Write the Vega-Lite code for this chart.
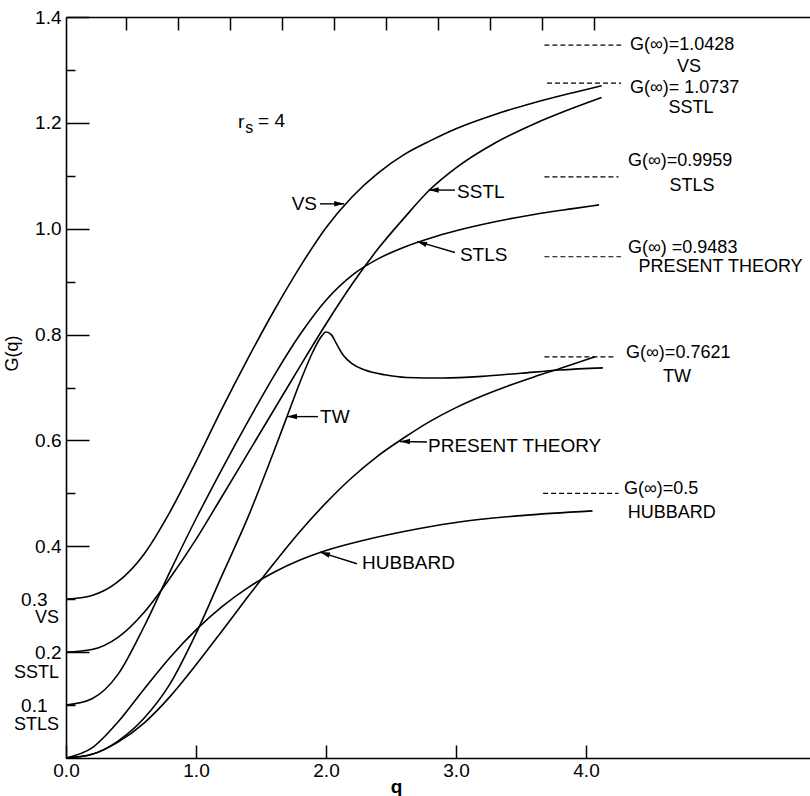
{
  "$schema": "https://vega.github.io/schema/vega-lite/v6.json",
  "width": 744,
  "height": 741,
  "autosize": {"type": "none"},
  "padding": {"left": 66, "top": 17, "right": 0, "bottom": 38},
  "background": "white",
  "config": {
    "view": {"stroke": null},
    "font": "Liberation Sans",
    "text": {"font": "Liberation Sans", "fontSize": 19, "color": "black", "baseline": "middle"},
    "axis": {
      "grid": false,
      "domainColor": "black",
      "domainWidth": 1.6,
      "tickColor": "black",
      "tickWidth": 1.5,
      "labelColor": "black",
      "labelFont": "Liberation Sans",
      "labelFontSize": 19,
      "titleColor": "black",
      "titleFont": "Liberation Sans",
      "titleFontSize": 19,
      "titleFontWeight": "normal",
      "labelOverlap": false,
      "labelFlush": false
    }
  },
  "datasets": {
    "curves": [
      {"s": "VS", "q": 0, "G": 0.300}, {"s": "VS", "q": 0.2, "G": 0.307}, {"s": "VS", "q": 0.4, "G": 0.333},
      {"s": "VS", "q": 0.6, "G": 0.385}, {"s": "VS", "q": 0.8, "G": 0.465}, {"s": "VS", "q": 1.0, "G": 0.560},
      {"s": "VS", "q": 1.2, "G": 0.660}, {"s": "VS", "q": 1.4, "G": 0.755}, {"s": "VS", "q": 1.6, "G": 0.845},
      {"s": "VS", "q": 1.8, "G": 0.928}, {"s": "VS", "q": 2.0, "G": 1.002}, {"s": "VS", "q": 2.2, "G": 1.060},
      {"s": "VS", "q": 2.4, "G": 1.105}, {"s": "VS", "q": 2.6, "G": 1.140}, {"s": "VS", "q": 2.8, "G": 1.166},
      {"s": "VS", "q": 3.0, "G": 1.189}, {"s": "VS", "q": 3.3, "G": 1.216}, {"s": "VS", "q": 3.6, "G": 1.238},
      {"s": "VS", "q": 3.9, "G": 1.257}, {"s": "VS", "q": 4.12, "G": 1.270},

      {"s": "STLS", "q": 0, "G": 0.100}, {"s": "STLS", "q": 0.2, "G": 0.112}, {"s": "STLS", "q": 0.4, "G": 0.158},
      {"s": "STLS", "q": 0.6, "G": 0.248}, {"s": "STLS", "q": 0.8, "G": 0.352}, {"s": "STLS", "q": 1.0, "G": 0.452},
      {"s": "STLS", "q": 1.2, "G": 0.546}, {"s": "STLS", "q": 1.4, "G": 0.636}, {"s": "STLS", "q": 1.6, "G": 0.722},
      {"s": "STLS", "q": 1.8, "G": 0.800}, {"s": "STLS", "q": 2.0, "G": 0.865}, {"s": "STLS", "q": 2.2, "G": 0.912},
      {"s": "STLS", "q": 2.4, "G": 0.943}, {"s": "STLS", "q": 2.6, "G": 0.965}, {"s": "STLS", "q": 2.8, "G": 0.982},
      {"s": "STLS", "q": 3.0, "G": 0.996}, {"s": "STLS", "q": 3.3, "G": 1.013}, {"s": "STLS", "q": 3.6, "G": 1.027},
      {"s": "STLS", "q": 3.9, "G": 1.038}, {"s": "STLS", "q": 4.1, "G": 1.045},

      {"s": "SSTL", "q": 0, "G": 0.200}, {"s": "SSTL", "q": 0.2, "G": 0.205}, {"s": "SSTL", "q": 0.4, "G": 0.228},
      {"s": "SSTL", "q": 0.6, "G": 0.275}, {"s": "SSTL", "q": 0.8, "G": 0.340}, {"s": "SSTL", "q": 1.0, "G": 0.413},
      {"s": "SSTL", "q": 1.2, "G": 0.494}, {"s": "SSTL", "q": 1.4, "G": 0.576}, {"s": "SSTL", "q": 1.6, "G": 0.658},
      {"s": "SSTL", "q": 1.8, "G": 0.740}, {"s": "SSTL", "q": 2.0, "G": 0.820}, {"s": "SSTL", "q": 2.2, "G": 0.895},
      {"s": "SSTL", "q": 2.4, "G": 0.962}, {"s": "SSTL", "q": 2.6, "G": 1.020}, {"s": "SSTL", "q": 2.8, "G": 1.074},
      {"s": "SSTL", "q": 3.0, "G": 1.115}, {"s": "SSTL", "q": 3.3, "G": 1.162}, {"s": "SSTL", "q": 3.6, "G": 1.198},
      {"s": "SSTL", "q": 3.9, "G": 1.228}, {"s": "SSTL", "q": 4.12, "G": 1.248},

      {"s": "TW", "q": 0, "G": 0}, {"s": "TW", "q": 0.2, "G": 0.007}, {"s": "TW", "q": 0.4, "G": 0.032},
      {"s": "TW", "q": 0.6, "G": 0.075}, {"s": "TW", "q": 0.8, "G": 0.140}, {"s": "TW", "q": 1.0, "G": 0.235},
      {"s": "TW", "q": 1.2, "G": 0.345}, {"s": "TW", "q": 1.4, "G": 0.455}, {"s": "TW", "q": 1.6, "G": 0.580},
      {"s": "TW", "q": 1.7, "G": 0.645}, {"s": "TW", "q": 1.8, "G": 0.710}, {"s": "TW", "q": 1.9, "G": 0.768},
      {"s": "TW", "q": 1.96, "G": 0.795}, {"s": "TW", "q": 2.0, "G": 0.805}, {"s": "TW", "q": 2.04, "G": 0.800},
      {"s": "TW", "q": 2.08, "G": 0.783}, {"s": "TW", "q": 2.13, "G": 0.762}, {"s": "TW", "q": 2.2, "G": 0.745},
      {"s": "TW", "q": 2.3, "G": 0.733}, {"s": "TW", "q": 2.45, "G": 0.724}, {"s": "TW", "q": 2.62, "G": 0.719},
      {"s": "TW", "q": 2.9, "G": 0.718}, {"s": "TW", "q": 3.2, "G": 0.721}, {"s": "TW", "q": 3.5, "G": 0.727},
      {"s": "TW", "q": 3.8, "G": 0.733}, {"s": "TW", "q": 4.13, "G": 0.737},

      {"s": "PRESENT", "q": 0, "G": 0}, {"s": "PRESENT", "q": 0.2, "G": 0.007}, {"s": "PRESENT", "q": 0.4, "G": 0.030},
      {"s": "PRESENT", "q": 0.6, "G": 0.066}, {"s": "PRESENT", "q": 0.8, "G": 0.116}, {"s": "PRESENT", "q": 1.0, "G": 0.176},
      {"s": "PRESENT", "q": 1.2, "G": 0.240}, {"s": "PRESENT", "q": 1.4, "G": 0.305}, {"s": "PRESENT", "q": 1.6, "G": 0.368},
      {"s": "PRESENT", "q": 1.8, "G": 0.428}, {"s": "PRESENT", "q": 2.0, "G": 0.482}, {"s": "PRESENT", "q": 2.2, "G": 0.530},
      {"s": "PRESENT", "q": 2.4, "G": 0.571}, {"s": "PRESENT", "q": 2.6, "G": 0.605}, {"s": "PRESENT", "q": 2.8, "G": 0.636},
      {"s": "PRESENT", "q": 3.0, "G": 0.662}, {"s": "PRESENT", "q": 3.2, "G": 0.684}, {"s": "PRESENT", "q": 3.4, "G": 0.703},
      {"s": "PRESENT", "q": 3.6, "G": 0.720}, {"s": "PRESENT", "q": 3.8, "G": 0.736}, {"s": "PRESENT", "q": 4.07, "G": 0.758},

      {"s": "HUBBARD", "q": 0, "G": 0}, {"s": "HUBBARD", "q": 0.2, "G": 0.019}, {"s": "HUBBARD", "q": 0.4, "G": 0.068},
      {"s": "HUBBARD", "q": 0.6, "G": 0.130}, {"s": "HUBBARD", "q": 0.8, "G": 0.190}, {"s": "HUBBARD", "q": 1.0, "G": 0.242},
      {"s": "HUBBARD", "q": 1.2, "G": 0.286}, {"s": "HUBBARD", "q": 1.4, "G": 0.322}, {"s": "HUBBARD", "q": 1.6, "G": 0.351},
      {"s": "HUBBARD", "q": 1.8, "G": 0.374}, {"s": "HUBBARD", "q": 2.0, "G": 0.392}, {"s": "HUBBARD", "q": 2.3, "G": 0.412},
      {"s": "HUBBARD", "q": 2.6, "G": 0.428}, {"s": "HUBBARD", "q": 3.0, "G": 0.445}, {"s": "HUBBARD", "q": 3.5, "G": 0.458},
      {"s": "HUBBARD", "q": 4.05, "G": 0.467}
    ],
    "leaders": [
      {"s": "VS", "x1": 3.68, "x2": 4.27, "G": 1.347},
      {"s": "SSTL", "x1": 3.70, "x2": 4.27, "G": 1.275},
      {"s": "STLS", "x1": 3.68, "x2": 4.25, "G": 1.098},
      {"s": "PRESENT", "x1": 3.68, "x2": 4.27, "G": 0.947},
      {"s": "TW", "x1": 3.68, "x2": 4.22, "G": 0.758},
      {"s": "HUBBARD", "x1": 3.67, "x2": 4.25, "G": 0.500}
    ],
    "arrows": [
      {"s": "VS", "q1": 1.954, "g1": 1.047, "q2": 2.14, "g2": 1.047},
      {"s": "SSTL", "q1": 2.992, "g1": 1.073, "q2": 2.79, "g2": 1.073},
      {"s": "STLS", "q1": 2.992, "g1": 0.955, "q2": 2.70, "g2": 0.976},
      {"s": "TW", "q1": 1.938, "g1": 0.645, "q2": 1.70, "g2": 0.645},
      {"s": "PRESENT", "q1": 2.777, "g1": 0.597, "q2": 2.569, "g2": 0.598},
      {"s": "HUBBARD", "q1": 2.238, "g1": 0.367, "q2": 1.954, "g2": 0.389}
    ],
    "curveLabels": [
      {"t": "SSTL", "q": 3.008, "G": 1.070},
      {"t": "STLS", "q": 3.03, "G": 0.951},
      {"t": "TW", "q": 1.954, "G": 0.645},
      {"t": "PRESENT THEORY", "q": 2.785, "G": 0.590},
      {"t": "HUBBARD", "q": 2.277, "G": 0.369}
    ],
    "vsLabel": [
      {"t": "VS", "q": 1.931, "G": 1.047}
    ],
    "limits": [
      {"t": "G(∞)=1.0428", "q": 4.338, "G": 1.348},
      {"t": "G(∞)= 1.0737", "q": 4.338, "G": 1.266},
      {"t": "G(∞)=0.9959", "q": 4.323, "G": 1.128},
      {"t": "G(∞) =0.9483", "q": 4.323, "G": 0.964},
      {"t": "G(∞)=0.7621", "q": 4.308, "G": 0.766},
      {"t": "G(∞)=0.5", "q": 4.292, "G": 0.509}
    ],
    "limitNames": [
      {"t": "VS", "q": 4.792, "G": 1.306},
      {"t": "SSTL", "q": 4.808, "G": 1.228},
      {"t": "STLS", "q": 4.815, "G": 1.081},
      {"t": "PRESENT THEORY", "q": 5.035, "G": 0.927},
      {"t": "TW", "q": 4.70, "G": 0.720},
      {"t": "HUBBARD", "q": 4.66, "G": 0.463}
    ],
    "startNames": [
      {"t": "VS", "q": 0, "G": 0.264},
      {"t": "SSTL", "q": 0, "G": 0.160},
      {"t": "STLS", "q": 0, "G": 0.062}
    ],
    "rsMain": [
      {"t": "r", "q": 1.323, "G": 1.202},
      {"t": "= 4", "q": 1.477, "G": 1.204}
    ],
    "rsSub": [
      {"t": "s", "q": 1.378, "G": 1.190}
    ]
  },
  "layer": [
    {
      "data": {"name": "curves"},
      "mark": {"type": "line", "interpolate": "monotone", "color": "black", "strokeWidth": 1.6},
      "encoding": {
        "x": {
          "field": "q", "type": "quantitative",
          "scale": {"domain": [0, 5.723], "nice": false, "zero": false},
          "axis": {
            "orient": "bottom",
            "values": [0, 1, 2, 3, 4],
            "format": ".1f",
            "tickSize": -13,
            "labelPadding": 16,
            "title": "q",
            "titleFontWeight": "bold",
            "titleX": 330,
            "titleY": 34,
            "titleAlign": "center",
            "titleBaseline": "alphabetic"
          }
        },
        "y": {
          "field": "G", "type": "quantitative",
          "scale": {"domain": [0, 1.4], "nice": false},
          "axis": {
            "values": [0.1, 0.2, 0.3, 0.4, 0.5, 0.6, 0.7, 0.8, 0.9, 1.0, 1.1, 1.2, 1.3, 1.4],
            "format": ".1f",
            "labelExpr": "(datum.value > 0.35 && round(datum.value * 10) % 2 == 1) ? '' : datum.label",
            "tickSize": {"condition": {"test": "round(datum.value * 10) % 2 == 1", "value": -9}, "value": -23},
            "labelPadding": 28,
            "title": "G(q)",
            "titleFontSize": 18,
            "titleAngle": -90,
            "titleX": -54,
            "titleY": 336,
            "titleAlign": "center",
            "titleBaseline": "middle"
          }
        },
        "detail": {"field": "s"}
      }
    },
    {
      "data": {"name": "leaders"},
      "mark": {"type": "rule", "color": "black", "strokeWidth": 1.2, "strokeDash": [5, 3]},
      "encoding": {
        "x": {
          "field": "x1", "type": "quantitative",
          "axis": {
            "orient": "top",
            "values": [0.46, 0.86, 1.26, 1.66, 2.06, 2.46, 2.86, 3.26, 3.66, 4.06],
            "labels": false,
            "tickSize": -13,
            "title": null
          }
        },
        "x2": {"field": "x2"},
        "y": {"field": "G", "type": "quantitative", "axis": null}
      }
    },
    {
      "data": {"name": "arrows"},
      "mark": {"type": "rule", "color": "black", "strokeWidth": 1.4},
      "encoding": {
        "x": {"field": "q1", "type": "quantitative", "axis": null},
        "x2": {"field": "q2"},
        "y": {"field": "g1", "type": "quantitative", "axis": null},
        "y2": {"field": "g2"}
      }
    },
    {
      "data": {"name": "arrows"},
      "transform": [{"filter": "datum.s == 'SSTL' || datum.s == 'TW' || datum.s == 'PRESENT'"}],
      "mark": {"type": "point", "shape": "M0,0L2,-0.55L2,0.55Z", "filled": true, "color": "black", "opacity": 1, "size": 100, "angle": 0},
      "encoding": {
        "x": {"field": "q2", "type": "quantitative", "axis": null},
        "y": {"field": "g2", "type": "quantitative", "axis": null}
      }
    },
    {
      "data": {"name": "arrows"},
      "transform": [{"filter": "datum.s == 'VS'"}],
      "mark": {"type": "point", "shape": "M0,0L2,-0.55L2,0.55Z", "filled": true, "color": "black", "opacity": 1, "size": 100, "angle": 180},
      "encoding": {
        "x": {"field": "q2", "type": "quantitative", "axis": null},
        "y": {"field": "g2", "type": "quantitative", "axis": null}
      }
    },
    {
      "data": {"name": "arrows"},
      "transform": [{"filter": "datum.s == 'STLS' || datum.s == 'HUBBARD'"}],
      "mark": {"type": "point", "shape": "M0,0L2,-0.55L2,0.55Z", "filled": true, "color": "black", "opacity": 1, "size": 100, "angle": 18},
      "encoding": {
        "x": {"field": "q2", "type": "quantitative", "axis": null},
        "y": {"field": "g2", "type": "quantitative", "axis": null}
      }
    },
    {
      "data": {"name": "curveLabels"},
      "mark": {"type": "text", "align": "left"},
      "encoding": {
        "x": {"field": "q", "type": "quantitative", "axis": null},
        "y": {"field": "G", "type": "quantitative", "axis": null},
        "text": {"field": "t"}
      }
    },
    {
      "data": {"name": "vsLabel"},
      "mark": {"type": "text", "align": "right"},
      "encoding": {
        "x": {"field": "q", "type": "quantitative", "axis": null},
        "y": {"field": "G", "type": "quantitative", "axis": null},
        "text": {"field": "t"}
      }
    },
    {
      "data": {"name": "limits"},
      "mark": {"type": "text", "align": "left", "fontSize": 18},
      "encoding": {
        "x": {"field": "q", "type": "quantitative", "axis": null},
        "y": {"field": "G", "type": "quantitative", "axis": null},
        "text": {"field": "t"}
      }
    },
    {
      "data": {"name": "limitNames"},
      "mark": {"type": "text", "align": "center", "fontSize": 18},
      "encoding": {
        "x": {"field": "q", "type": "quantitative", "axis": null},
        "y": {"field": "G", "type": "quantitative", "axis": null},
        "text": {"field": "t"}
      }
    },
    {
      "data": {"name": "startNames"},
      "mark": {"type": "text", "align": "right", "dx": -7, "fontSize": 18},
      "encoding": {
        "x": {"field": "q", "type": "quantitative", "axis": null},
        "y": {"field": "G", "type": "quantitative", "axis": null},
        "text": {"field": "t"}
      }
    },
    {
      "data": {"name": "rsMain"},
      "mark": {"type": "text", "align": "left"},
      "encoding": {
        "x": {"field": "q", "type": "quantitative", "axis": null},
        "y": {"field": "G", "type": "quantitative", "axis": null},
        "text": {"field": "t"}
      }
    },
    {
      "data": {"name": "rsSub"},
      "mark": {"type": "text", "align": "left", "fontSize": 16},
      "encoding": {
        "x": {"field": "q", "type": "quantitative", "axis": null},
        "y": {"field": "G", "type": "quantitative", "axis": null},
        "text": {"field": "t"}
      }
    }
  ],
  "resolve": {"axis": {"x": "independent", "y": "independent"}}
}
